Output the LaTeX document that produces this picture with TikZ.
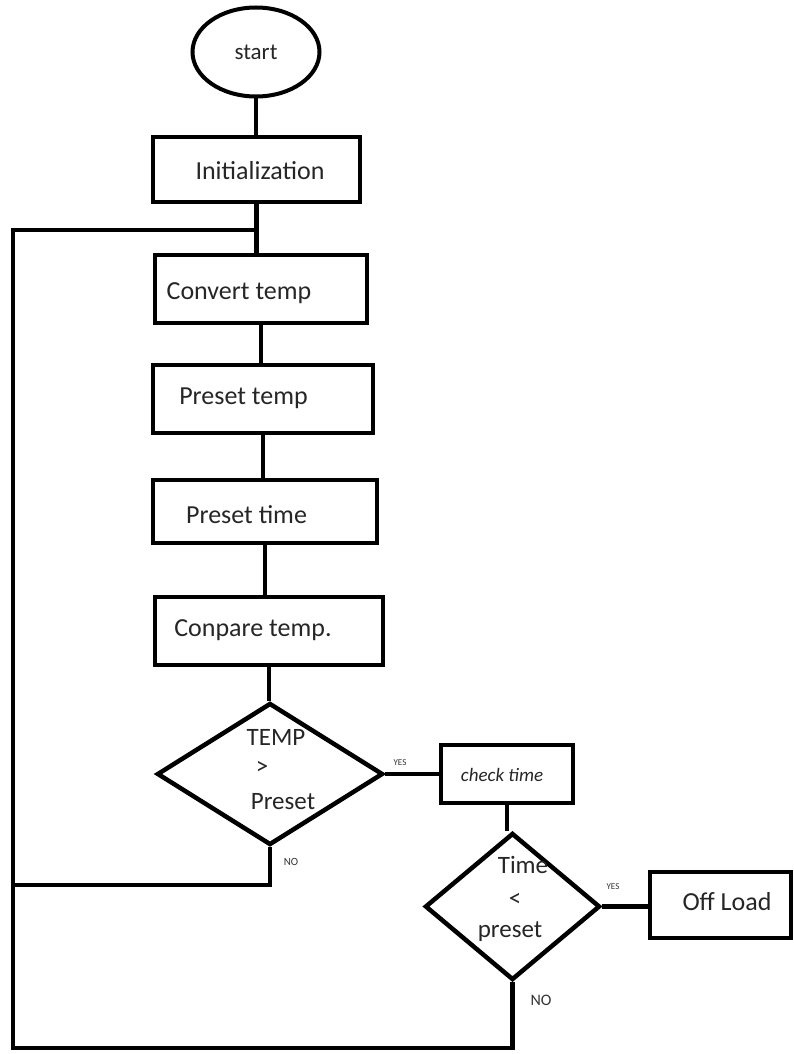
\documentclass[tikz,border=0pt]{standalone}
\usepackage{fontspec}
\setmainfont{Carlito}
\usetikzlibrary{shapes.geometric}
\begin{document}
\begin{tikzpicture}[x=1pt,y=-1pt,
  ln/.style={line width=4.5pt},
  box/.style={draw, line width=4.5pt, rectangle, inner sep=0pt},
  dia/.style={draw, line width=4.5pt, diamond, aspect=1, inner sep=0pt},
  oval/.style={draw, line width=4pt, ellipse, inner sep=0pt},
  txt/.style={inner sep=0pt, text=black!85, font=\fontsize{26}{30}\selectfont},
  dtxt/.style={inner sep=0pt, text=black!85, font=\fontsize{25}{29}\selectfont},
  small/.style={inner sep=0pt, text=black!80, font=\fontsize{9}{11}\selectfont},
]
\useasboundingbox (0,0) rectangle (793,1054);

% shapes
\node[oval, minimum width=127pt, minimum height=89pt] (start) at (256,52) {};
\node[box, minimum width=207pt, minimum height=65pt] (init) at (256.5,169.5) {};
\node[box, minimum width=212pt, minimum height=68pt] (conv) at (261,289) {};
\node[box, minimum width=220pt, minimum height=68pt] (ptemp) at (263,399) {};
\node[box, minimum width=224pt, minimum height=63pt] (ptime) at (265,511.5) {};
\node[box, minimum width=228pt, minimum height=68pt] (cmp) at (269,631) {};
\node[dia, minimum width=226pt, minimum height=142pt] (d1) at (270,774) {};
\node[box, minimum width=132pt, minimum height=58pt] (chk) at (507,774) {};
\node[dia, minimum width=175pt, minimum height=147pt] (d2) at (512.5,906.5) {};
\node[box, minimum width=141pt, minimum height=66pt] (off) at (720.5,905) {};

% texts
\node[txt, font=\fontsize{23}{27}\selectfont] (tstart) at (256,52) {start};
\node[txt] (tinit) at (260,171) {Initialization};
\node[txt] (tconv) at (239,293) {Convert temp};
\node[txt] (tptemp) at (243.5,398) {Preset temp};
\node[txt] (tptime) at (246.5,515) {Preset time};
\node[txt] (tcmp) at (253,630) {Conpare temp.};
\node[dtxt] (tt1) at (276,737) {TEMP};
\node[dtxt] (tt2) at (262,768) {>};
\node[dtxt] (tt3) at (283,802) {Preset};
\node[txt, font=\fontsize{19}{22}\selectfont\itshape] (tchk) at (502,775) {check time};
\node[dtxt] (tu1) at (523,865) {Time};
\node[dtxt] (tu2) at (515,900) {<};
\node[dtxt] (tu3) at (510,932) {preset};
\node[txt] (toff) at (727,902) {Off Load};
\node[small] (yes1) at (400,763) {YES};
\node[small] (yes2) at (613,887) {YES};
\node[small, font=\fontsize{11}{13}\selectfont] (no1) at (291,862) {NO};
\node[small, font=\fontsize{16}{19}\selectfont] (no2) at (541,1000) {NO};

% loop coordinates
\coordinate (loopTL) at (13,230);
\coordinate (noL) at (13,885);
\coordinate (loopBL) at (13,1048);

% connectors
\draw[ln] (start.south) -- (start.south |- init.north);
\draw[ln] (init.south) -- (init.south |- conv.north);
\draw[ln] (conv.south) -- (conv.south |- ptemp.north);
\draw[ln] (ptemp.south) -- (ptemp.south |- ptime.north);
\draw[ln] (ptime.south) -- (ptime.south |- cmp.north);
\draw[ln] (cmp.south) -- (cmp.south |- d1.north);
\draw[ln] (d1.east) -- (d1.east -| chk.west);
\draw[ln] (chk.south) -- (chk.south |- d2.north);
\draw[ln] (d2.east) -- (d2.east -| off.west);
\draw[ln] (d1.south) |- (noL);
\draw[ln] (d2.south) |- (loopBL) -- (loopTL) -- (loopTL -| init.south);
\end{tikzpicture}
\end{document}
